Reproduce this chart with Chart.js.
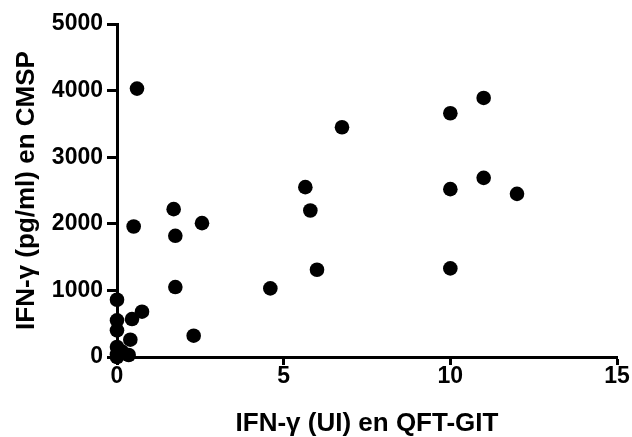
<!DOCTYPE html>
<html>
<head>
<meta charset="utf-8">
<script src="https://cdn.jsdelivr.net/npm/chart.js@4"></script>
<style>
  html, body { margin: 0; padding: 0; background: #fff; }
  #wrap { width: 632px; height: 437px; }
</style>
</head>
<body>
<div id="wrap"><canvas id="c" width="632" height="437"></canvas></div>
<script>
// IFN-γ in QFT-GIT (UI) — x values
const qftValues = [0.6, 0.5, 1.7, 1.75, 2.55, 4.6, 5.65, 5.8, 6.0, 6.75, 10, 10, 10, 11, 11, 12,
                   0.75, 1.75, 2.3, 0, 0, 0.45, 0, 0.4, 0, 0, 0.15, 0.35, 0];
// IFN-γ in CMSP (pg/ml) — y values
const cmspValues = [4030, 1960, 2220, 1820, 2010, 1030, 2550, 2200, 1310, 3450, 3660, 2520, 1330, 3890, 2690, 2450,
                    680, 1050, 320, 860, 550, 570, 400, 260, 150, 40, 80, 30, 0];
const xTicks = [0, 5, 10, 15];
const yTicks = [0, 1000, 2000, 3000, 4000, 5000];
const xTitle = 'IFN-γ (UI) en QFT-GIT';
const yTitle = 'IFN-γ (pg/ml) en CMSP';

const points = qftValues.map((x, i) => ({ x: x, y: cmspValues[i] }));
const FONT = "'Liberation Sans', Arial, sans-serif";

Chart.defaults.font.family = FONT;
Chart.defaults.font.size = 23;
Chart.defaults.font.weight = 'bold';
Chart.defaults.color = '#000';

new Chart(document.getElementById('c'), {
  type: 'scatter',
  data: {
    datasets: [{
      data: points,
      backgroundColor: '#000',
      borderColor: '#000',
      borderWidth: 0,
      pointRadius: 7.3,
      pointHoverRadius: 7.3,
      clip: false
    }]
  },
  options: {
    responsive: false,
    animation: false,
    events: [],
    layout: { padding: { top: 24, right: 15, bottom: 0, left: 0 } },
    plugins: { legend: { display: false }, tooltip: { enabled: false } },
    scales: {
      x: {
        type: 'linear',
        min: 0, max: 15,
        afterBuildTicks: (s) => { s.ticks = xTicks.map(v => ({ value: v })); },
        afterFit: (s) => { s.height = 80; },
        border: { display: true, color: '#000', width: 3 },
        grid: { display: true, drawOnChartArea: false, drawTicks: true, tickLength: 8, tickWidth: 3, tickColor: '#000' },
        ticks: { color: '#000', padding: 0, maxRotation: 0, autoSkip: false,
                 callback: (v) => String(v),
                 font: { family: FONT, size: 23, weight: 'bold', lineHeight: 1.0 } },
        title: { display: true, text: xTitle, color: '#000', padding: { top: 0, bottom: 0 },
                 font: { family: FONT, size: 26, weight: 'bold', lineHeight: 1.0 } }
      },
      y: {
        type: 'linear',
        min: 0, max: 5000,
        afterBuildTicks: (s) => { s.ticks = yTicks.map(v => ({ value: v })); },
        afterFit: (s) => { s.width = 117; },
        border: { display: true, color: '#000', width: 3 },
        grid: { display: true, drawOnChartArea: false, drawTicks: true, tickLength: 10, tickWidth: 3, tickColor: '#000' },
        ticks: { color: '#000', padding: 4, autoSkip: false,
                 callback: (v) => String(v),
                 font: { family: FONT, size: 23, weight: 'bold' } },
        title: { display: true, text: yTitle, color: '#000', padding: { top: 11, bottom: 0 },
                 font: { family: FONT, size: 26, weight: 'bold' } }
      }
    }
  }
});
</script>
</body>
</html>
